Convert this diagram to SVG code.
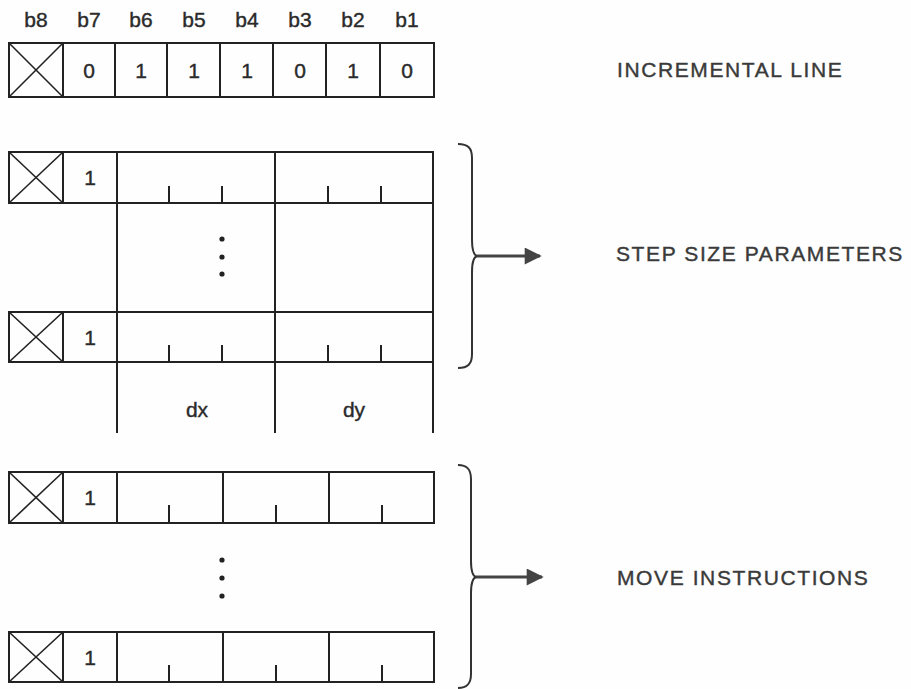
<svg xmlns="http://www.w3.org/2000/svg" width="911" height="689" viewBox="0 0 911 689">
<style>
.bg{fill:#fefefe}
.cell{fill:none;stroke:#222;stroke-width:2}
.ln{stroke:#222;stroke-width:2;fill:none}
.x{stroke:#222;stroke-width:1.6}
.tick{stroke:#222;stroke-width:2}
.t{font-family:"Liberation Sans",Arial,sans-serif;font-size:21px;fill:#2a2a2a;stroke:#2a2a2a;stroke-width:0.4;text-anchor:middle}
.lbl{font-family:"Liberation Sans",Arial,sans-serif;font-size:21px;fill:#3a3a3a;stroke:#3a3a3a;stroke-width:0.4;letter-spacing:1.6px}
.dot{fill:#222}
.brace{fill:none;stroke:#333;stroke-width:2}
.arrow{stroke:#444;stroke-width:3;fill:none;marker-end:url(#ah)}
</style>
<defs>
<marker id="ah" viewBox="0 0 10 10" refX="9" refY="5" markerUnits="userSpaceOnUse" markerWidth="18" markerHeight="17" orient="auto">
<path d="M0,0 L10,5 L0,10 Z" fill="#444"/>
</marker>
</defs>
<rect class="bg" x="0" y="0" width="911" height="689"/>

<g id="bit-labels">
<text class="t" x="36" y="27">b8</text>
<text class="t" x="89" y="27">b7</text>
<text class="t" x="141" y="27">b6</text>
<text class="t" x="194" y="27">b5</text>
<text class="t" x="247" y="27">b4</text>
<text class="t" x="300" y="27">b3</text>
<text class="t" x="353" y="27">b2</text>
<text class="t" x="407" y="27">b1</text>
</g>

<g id="incremental-line-row">
<rect class="cell" x="9" y="43" width="54" height="54"/>
<line class="x" x1="9" y1="43" x2="63" y2="97"/>
<line class="x" x1="63" y1="43" x2="9" y2="97"/>
<rect class="cell" x="63" y="43" width="52" height="54"/>
<rect class="cell" x="115" y="43" width="52" height="54"/>
<rect class="cell" x="167" y="43" width="53" height="54"/>
<rect class="cell" x="220" y="43" width="53" height="54"/>
<rect class="cell" x="273" y="43" width="53" height="54"/>
<rect class="cell" x="326" y="43" width="54" height="54"/>
<rect class="cell" x="380" y="43" width="54" height="54"/>
<text class="t" x="89" y="78">0</text>
<text class="t" x="141" y="78">1</text>
<text class="t" x="194" y="78">1</text>
<text class="t" x="247" y="78">1</text>
<text class="t" x="300" y="78">0</text>
<text class="t" x="353" y="78">1</text>
<text class="t" x="407" y="78">0</text>
</g>

<g id="step-row-1">
<rect class="cell" x="9" y="152" width="54" height="51"/>
<line class="x" x1="9" y1="152" x2="63" y2="203"/>
<line class="x" x1="63" y1="152" x2="9" y2="203"/>
<rect class="cell" x="63" y="152" width="54" height="51"/>
<rect class="cell" x="117" y="152" width="158" height="51"/>
<rect class="cell" x="275" y="152" width="158" height="51"/>
<line class="tick" x1="169" y1="186" x2="169" y2="203"/>
<line class="tick" x1="222" y1="186" x2="222" y2="203"/>
<line class="tick" x1="328" y1="186" x2="328" y2="203"/>
<line class="tick" x1="381" y1="186" x2="381" y2="203"/>
<text class="t" x="90" y="185">1</text>
</g>

<g id="step-middle">
<line class="ln" x1="117" y1="203" x2="117" y2="312"/>
<line class="ln" x1="275" y1="203" x2="275" y2="312"/>
<line class="ln" x1="433" y1="203" x2="433" y2="312"/>
<circle class="dot" cx="222" cy="239" r="2.6"/>
<circle class="dot" cx="222" cy="257" r="2.6"/>
<circle class="dot" cx="222" cy="274" r="2.6"/>
</g>

<g id="step-row-2">
<rect class="cell" x="9" y="312" width="54" height="50"/>
<line class="x" x1="9" y1="312" x2="63" y2="362"/>
<line class="x" x1="63" y1="312" x2="9" y2="362"/>
<rect class="cell" x="63" y="312" width="54" height="50"/>
<rect class="cell" x="117" y="312" width="158" height="50"/>
<rect class="cell" x="275" y="312" width="158" height="50"/>
<line class="tick" x1="169" y1="345" x2="169" y2="362"/>
<line class="tick" x1="222" y1="345" x2="222" y2="362"/>
<line class="tick" x1="328" y1="345" x2="328" y2="362"/>
<line class="tick" x1="381" y1="345" x2="381" y2="362"/>
<text class="t" x="90" y="345">1</text>
</g>

<g id="dx-dy-fields">
<line class="ln" x1="117" y1="362" x2="117" y2="433"/>
<line class="ln" x1="275" y1="362" x2="275" y2="433"/>
<line class="ln" x1="433" y1="362" x2="433" y2="433"/>
<text class="t" x="197" y="417">dx</text>
<text class="t" x="354" y="417">dy</text>
</g>

<g id="move-row-1">
<rect class="cell" x="9" y="472" width="54" height="51"/>
<line class="x" x1="9" y1="472" x2="63" y2="523"/>
<line class="x" x1="63" y1="472" x2="9" y2="523"/>
<rect class="cell" x="63" y="472" width="54" height="51"/>
<rect class="cell" x="117" y="472" width="106" height="51"/>
<rect class="cell" x="223" y="472" width="106" height="51"/>
<rect class="cell" x="329" y="472" width="105" height="51"/>
<line class="tick" x1="169" y1="505" x2="169" y2="523"/>
<line class="tick" x1="276" y1="505" x2="276" y2="523"/>
<line class="tick" x1="382" y1="505" x2="382" y2="523"/>
<text class="t" x="90" y="505">1</text>
</g>

<g id="move-ellipsis">
<circle class="dot" cx="222" cy="560" r="2.6"/>
<circle class="dot" cx="222" cy="578" r="2.6"/>
<circle class="dot" cx="222" cy="596" r="2.6"/>
</g>

<g id="move-row-2">
<rect class="cell" x="9" y="632" width="54" height="50"/>
<line class="x" x1="9" y1="632" x2="63" y2="682"/>
<line class="x" x1="63" y1="632" x2="9" y2="682"/>
<rect class="cell" x="63" y="632" width="54" height="50"/>
<rect class="cell" x="117" y="632" width="106" height="50"/>
<rect class="cell" x="223" y="632" width="106" height="50"/>
<rect class="cell" x="329" y="632" width="105" height="50"/>
<line class="tick" x1="169" y1="665" x2="169" y2="682"/>
<line class="tick" x1="276" y1="665" x2="276" y2="682"/>
<line class="tick" x1="382" y1="665" x2="382" y2="682"/>
<text class="t" x="90" y="665">1</text>
</g>

<g id="labels">
<text class="lbl" x="617" y="77">INCREMENTAL LINE</text>
<text class="lbl" x="616" y="261">STEP SIZE PARAMETERS</text>
<text class="lbl" x="617" y="585">MOVE INSTRUCTIONS</text>
</g>

<g id="connectors">
<path class="brace" d="M458,144 C468,144 472,148 472,158 L472,240 C472,250 474,255 477,256 C474,257 472,262 472,272 L472,354 C472,364 468,368 458,368"/>
<path class="arrow" d="M477,256 L540,256"/>
<path class="brace" d="M458,465 C467,465 471,469 471,479 L471,561 C471,571 473,576 476,577 C473,578 471,583 471,593 L471,674 C471,684 467,688 458,688"/>
<path class="arrow" d="M476,577 L542,577"/>
</g>
</svg>
